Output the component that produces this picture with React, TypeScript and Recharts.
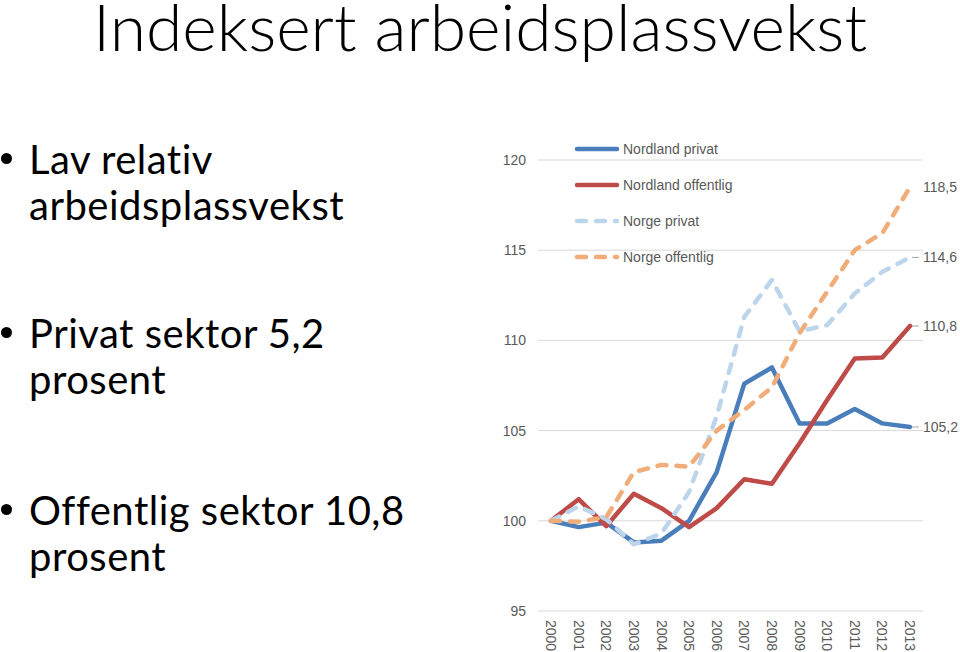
import { LineChart, Line, XAxis, YAxis, CartesianGrid, LabelList } from 'recharts'

const years = ['2000', '2001', '2002', '2003', '2004', '2005', '2006', '2007', '2008', '2009', '2010', '2011', '2012', '2013']
const nordlandPrivat = [100, 99.65, 99.9, 98.8, 98.9, 100, 102.7, 107.6, 108.5, 105.4, 105.4, 106.2, 105.4, 105.2]
const nordlandOffentlig = [100, 101.2, 99.7, 101.5, 100.7, 99.65, 100.7, 102.3, 102.05, 104.3, 106.7, 109.0, 109.05, 110.8]
const norgePrivat = [100, 100.8, 100.1, 98.7, 99.3, 101.6, 105.8, 111.3, 113.35, 110.5, 110.85, 112.6, 113.8, 114.6]
const norgeOffentlig = [100, 99.95, 100.2, 102.7, 103.1, 103.0, 105.0, 106.15, 107.4, 110.4, 112.7, 115.0, 115.95, 118.5]
const yTicks = [95, 100, 105, 110, 115, 120]

const data = years.map((year, i) => ({
  year,
  nordlandPrivat: nordlandPrivat[i],
  nordlandOffentlig: nordlandOffentlig[i],
  norgePrivat: norgePrivat[i],
  norgeOffentlig: norgeOffentlig[i],
}))

const series = [
  { key: 'nordlandPrivat', name: 'Nordland privat', color: '#4a7ebb', dash: undefined, leader: true },
  { key: 'nordlandOffentlig', name: 'Nordland offentlig', color: '#be4b48', dash: undefined, leader: true },
  { key: 'norgePrivat', name: 'Norge privat', color: '#bdd5eb', dash: '9 10', leader: true },
  { key: 'norgeOffentlig', name: 'Norge offentlig', color: '#f0ad7a', dash: '9 10', leader: false },
]

const gray = '#595959'
const font = 'Arial, "Liberation Sans", sans-serif'
const slideFont = 'Lato, "Open Sans", sans-serif'

function EndLabel({ x, y, value, index, leader }: any) {
  if (index !== years.length - 1) return null
  const txt = Number(value).toFixed(1).replace('.', ',')
  return (
    <g>
      {leader && <line x1={x + 2} y1={y} x2={x + 9} y2={y} stroke="#a6a6a6" strokeWidth={1} />}
      <text x={x + 13} y={y} dy="0.35em" fontSize={14} fill={gray} fontFamily={font}>
        {txt}
      </text>
    </g>
  )
}

function YearTick({ x, y, payload }: any) {
  return (
    <text
      x={x}
      y={y}
      transform={`rotate(90, ${x}, ${y})`}
      dy="0.35em"
      textAnchor="start"
      fontSize={14}
      fill={gray}
      fontFamily={font}
    >
      {payload.value}
    </text>
  )
}

function LegendBox() {
  return (
    <div style={{ position: 'absolute', left: 574, top: 131, fontFamily: font, fontSize: 14, color: gray }}>
      {series.map((s) => (
        <div key={s.key} style={{ display: 'flex', alignItems: 'center', height: 36 }}>
          <svg width={49} height={8}>
            <line
              x1={3}
              y1={4}
              x2={43}
              y2={4}
              stroke={s.color}
              strokeWidth={4.5}
              strokeLinecap="round"
              strokeDasharray={s.dash}
            />
          </svg>
          <span>{s.name}</span>
        </div>
      ))}
    </div>
  )
}

const bullet = {
  position: 'absolute' as const,
  left: 0,
  fontFamily: slideFont,
  fontSize: 40,
  letterSpacing: 0.5,
  lineHeight: '46px',
  color: '#000',
  whiteSpace: 'nowrap' as const,
}

function Bullet({ top, lines }: { top: number; lines: string[] }) {
  return (
    <div style={{ ...bullet, top }}>
      <div
        style={{ position: 'absolute', left: 1, top: 17, width: 11, height: 11, borderRadius: 6, background: '#000' }}
      />
      <div style={{ marginLeft: 29 }}>
        {lines[0]}
        <br />
        {lines[1]}
      </div>
    </div>
  )
}

export default function App() {
  return (
    <div style={{ position: 'absolute', left: 0, top: 0, width: 960, height: 652, background: '#fff', overflow: 'hidden' }}>
      <div
        style={{
          position: 'absolute',
          left: 0,
          top: 0,
          width: 960,
          textAlign: 'center',
          fontFamily: slideFont,
          fontWeight: 300,
          fontSize: 66,
          lineHeight: '52px',
          color: '#000',
        }}
      >
        Indeksert arbeidsplassvekst
      </div>

      <Bullet top={136} lines={['Lav relativ', 'arbeidsplassvekst']} />
      <Bullet top={310} lines={['Privat sektor 5,2', 'prosent']} />
      <Bullet top={487} lines={['Offentlig sektor 10,8', 'prosent']} />

      <div style={{ position: 'absolute', left: 490, top: 130 }}>
        <LineChart width={470} height={522} data={data} margin={{ top: 30, right: 37, left: 0, bottom: 0 }}>
          <CartesianGrid vertical={false} stroke="#d9d9d9" strokeWidth={1} />
          <XAxis
            dataKey="year"
            tick={<YearTick />}
            tickLine={false}
            axisLine={false}
            interval={0}
            height={41}
            tickMargin={3}
            padding={{ left: 13, right: 13 }}
          />
          <YAxis
            domain={[95, 120]}
            ticks={yTicks}
            width={48}
            tickLine={false}
            axisLine={false}
            tickMargin={6}
            tick={{ fontSize: 14, fill: gray, fontFamily: font }}
          />
          {series.map((s) => (
            <Line
              key={s.key}
              type="linear"
              dataKey={s.key}
              name={s.name}
              stroke={s.color}
              strokeWidth={4.5}
              strokeDasharray={s.dash}
              strokeLinecap="round"
              strokeLinejoin="round"
              dot={false}
              isAnimationActive={false}
            >
              <LabelList dataKey={s.key} content={(p: any) => <EndLabel {...p} leader={s.leader} />} />
            </Line>
          ))}
        </LineChart>
      </div>
      <LegendBox />
    </div>
  )
}
